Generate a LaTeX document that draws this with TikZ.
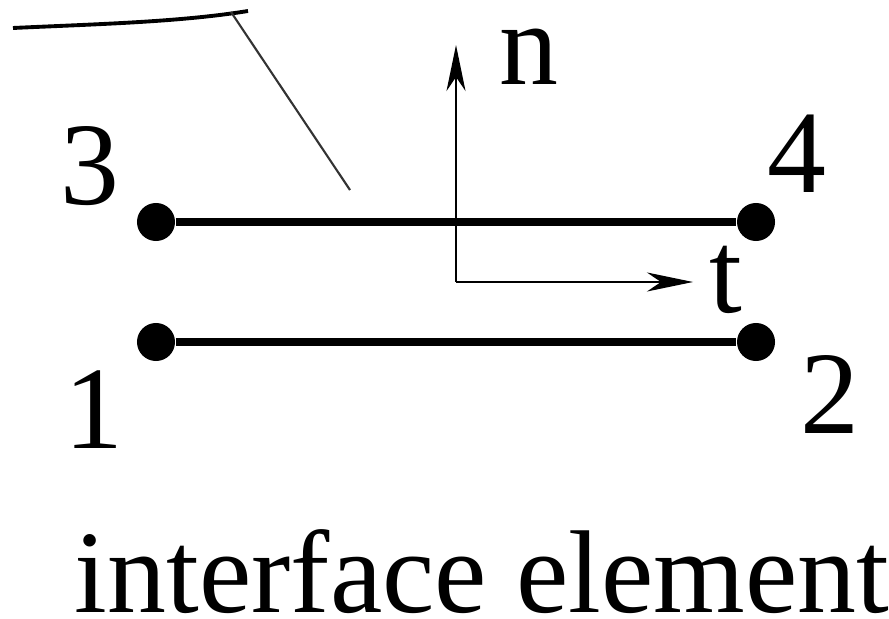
\documentclass[tikz,border=0pt]{standalone}
\usepackage{fontspec}
\setmainfont{Liberation Serif}
\usetikzlibrary{arrows.meta, positioning}

\begin{document}
\begin{tikzpicture}[x=0.01cm, y=-0.01cm,
    knot/.style={circle, fill=black, inner sep=0pt, minimum size=0.38cm},
    lbl/.style={font=\fontsize{33.5}{40}\selectfont, inner sep=0pt, anchor=base},
    bar/.style={line width=2.3pt},
    axis/.style={line width=0.6pt, -{Stealth[length=0.46cm, width=0.19cm, inset=0.14cm]}}]
        \useasboundingbox (0,0) rectangle (889,619);

        % 界面两侧的曲线与引线
        \draw[line width=1.1pt] (13,28) .. controls (100,24) and (180,22) .. (248,11);
        \coordinate (lead0) at (231,12);
        \coordinate (lead1) at (350,190);
        \draw[line width=0.6pt, black!80] (lead0) -- (lead1);

        % 节点
        \node[knot] (n3) at (156,222) {};
        \node[knot] (n4) at (756,222) {};
        \node[knot] (n1) at (156,342) {};
        \node[knot] (n2) at (756,342) {};
        \draw[bar] (n3) -- (n4);
        \draw[bar] (n1) -- (n2);

        % 局部坐标系 n-t
        \coordinate (o) at (456,282);
        \coordinate (nend) at (456,45);
        \coordinate (tend) at (693,282);
        \draw[axis] (o) -- (nend);
        \draw[axis] (o) -- (tend);

        % 标注
        \node[lbl] (l3) at (90,205) {3};
        \node[lbl] (l4) at (797,193) {4};
        \node[lbl] (l1) at (94,448) {1};
        \node[lbl] (l2) at (830,433) {2};
        \node[lbl] (ln) at (529,85) {n};
        \node[lbl] (lt) at (726,313) {t};
        \node[lbl] (title) at (482,612) {interface element};
\end{tikzpicture}
\end{document}
